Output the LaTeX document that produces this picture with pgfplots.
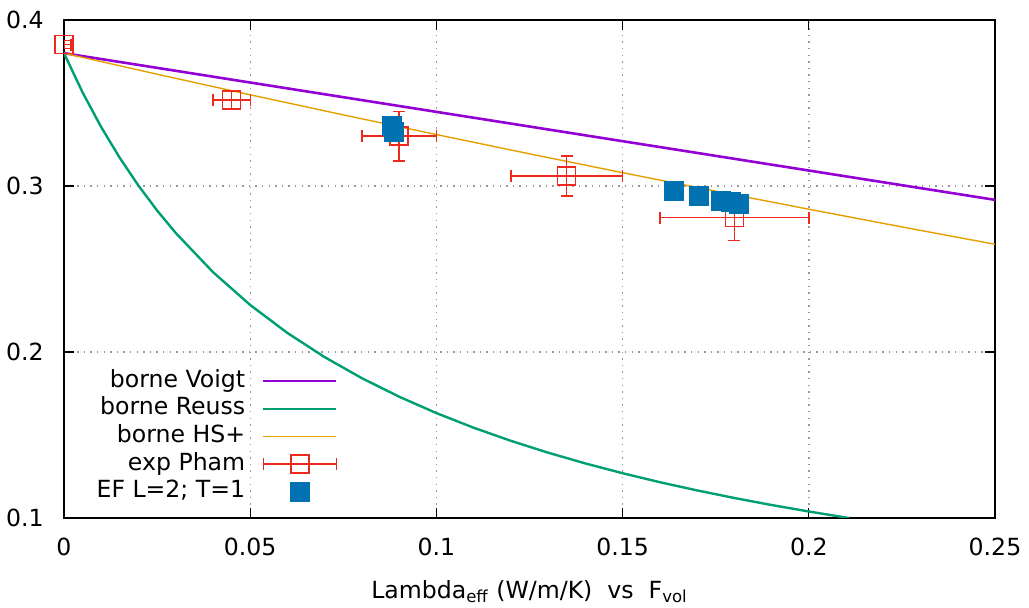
\documentclass[border=0pt]{standalone}
\usepackage{fontspec}
\setmainfont{DejaVu Sans}
\usepackage{pgfplots}
\pgfplotsset{compat=1.18}
\definecolor{gpviolet}{HTML}{9400D3}
\definecolor{gpgreen}{HTML}{009E73}
\definecolor{gporange}{HTML}{E69F00}
\definecolor{gpred}{HTML}{EE2A1E}
\definecolor{gpblue}{HTML}{0072B2}

\begin{document}
\fontsize{11.8}{14}\selectfont
\begin{tikzpicture}
\useasboundingbox (-32pt,-45pt) rectangle (482.5pt,259pt);
\begin{axis}[
    at={(0,0)}, anchor=south west,
    scale only axis,
    width=465.5pt, height=249pt,
    xmin=0, xmax=0.25, ymin=0.1, ymax=0.4,
    clip=true, clip mode=individual,
    xtick={0,0.05,0.1,0.15,0.2,0.25},
    xticklabels={0,0.05,0.1,0.15,0.2,0.25},
    ytick={0.1,0.2,0.3,0.4},
    yticklabels={0.1,0.2,0.3,0.4},
    tick align=inside,
    major tick length=5pt,
    tick style={black, line width=0.6pt},
    axis line style={line width=0.8pt},
    grid=major,
    major grid style={gray!80, line width=0.7pt, dash pattern=on 0.7pt off 2.6pt},
    xticklabel style={yshift=-6pt},
    yticklabel style={xshift=-6pt},
    xlabel={Lambda\textsubscript{eff} (W/m/K)\ \ vs\ \ F\textsubscript{vol}},
    xlabel style={yshift=-4pt},
    legend style={at={(axis description cs:0.2945,0.0245)}, anchor=south east,
        draw=none, fill=none, inner sep=0pt, column sep=8.5pt, row sep=0pt,
        nodes={inner xsep=0pt, inner ysep=1pt, text height=9pt, text depth=2.8pt}},
    legend cell align=right,
    legend plot pos=right,
    legend image code/.code={\draw[#1, line cap=butt] (0pt,0pt) -- (36.5pt,0pt);},
]
% borne Voigt
\addplot[gpviolet, line width=1.3pt] coordinates {(0,0.380) (0.25,0.29165)};
\addlegendentry{borne Voigt}
% borne Reuss
\addplot[gpgreen, line width=1.2pt] coordinates {
(0,0.38000) (0.005,0.35633) (0.01,0.33544) (0.015,0.31686) (0.02,0.30023)
(0.025,0.28525) (0.03,0.27171) (0.04,0.24813) (0.05,0.22833) (0.06,0.21145)
(0.07,0.19689) (0.08,0.18421) (0.09,0.17306) (0.10,0.16319) (0.11,0.15438)
(0.12,0.14648) (0.13,0.13934) (0.14,0.13287) (0.15,0.12697) (0.16,0.12157)
(0.17,0.11662) (0.18,0.11205) (0.19,0.10782) (0.20,0.10391) (0.21,0.10026)
(0.2108,0.10000)};
\addlegendentry{borne Reuss}
% borne HS+
\addplot[gporange, line width=0.7pt] coordinates {
(0,0.38000) (0.025,0.36734) (0.05,0.35495) (0.075,0.34284) (0.10,0.33099)
(0.125,0.31938) (0.15,0.30802) (0.175,0.29690) (0.20,0.28601) (0.225,0.27534)
(0.25,0.26489)};
\addlegendentry{borne HS+}
% exp Pham
\addplot[gpred, line width=0.7pt, only marks, mark=square, mark size=4.5pt,
    error bars/.cd, x dir=both, x explicit, y dir=both, y explicit,
    error bar style={gpred, line width=0.7pt},
    error mark options={rotate=90, gpred, mark size=3pt, line width=0.7pt},
    /pgfplots/legend image code/.code={
    \draw[gpred, line width=0.7pt] (0pt,0pt) -- (36.5pt,0pt)
        (0pt,-3pt) -- (0pt,3pt) (36.5pt,-3pt) -- (36.5pt,3pt);
    \draw[gpred, line width=0.7pt] (13.75pt,-4.5pt) rectangle (22.75pt,4.5pt);}]
    coordinates {
    (0,0.3852) +- (0.0019,0.0024)
    (0.045,0.3518) +- (0.005,0.005)
    (0.090,0.330) +- (0.010,0.015)
    (0.135,0.306) +- (0.015,0.012)
    (0.180,0.281) +- (0.020,0.014)};
\addlegendentry{exp Pham}
% EF
\addplot[only marks, mark=square*, mark size=4.75pt, gpblue,
    mark options={draw=gpblue, fill=gpblue},
    legend image code/.code={
    \path[draw=none, fill=none] (0pt,-0.1pt) rectangle (36.5pt,0.1pt);
    \fill[gpblue] (13.5pt,-4.75pt) rectangle (23pt,4.75pt);}] coordinates {
    (0.0881,0.3364) (0.0887,0.3325) (0.1637,0.2969) (0.1705,0.2941)
    (0.1764,0.2910) (0.1791,0.2904) (0.1812,0.2890)};
\addlegendentry{EF L=2; T=1}
\end{axis}
\end{tikzpicture}
\end{document}
